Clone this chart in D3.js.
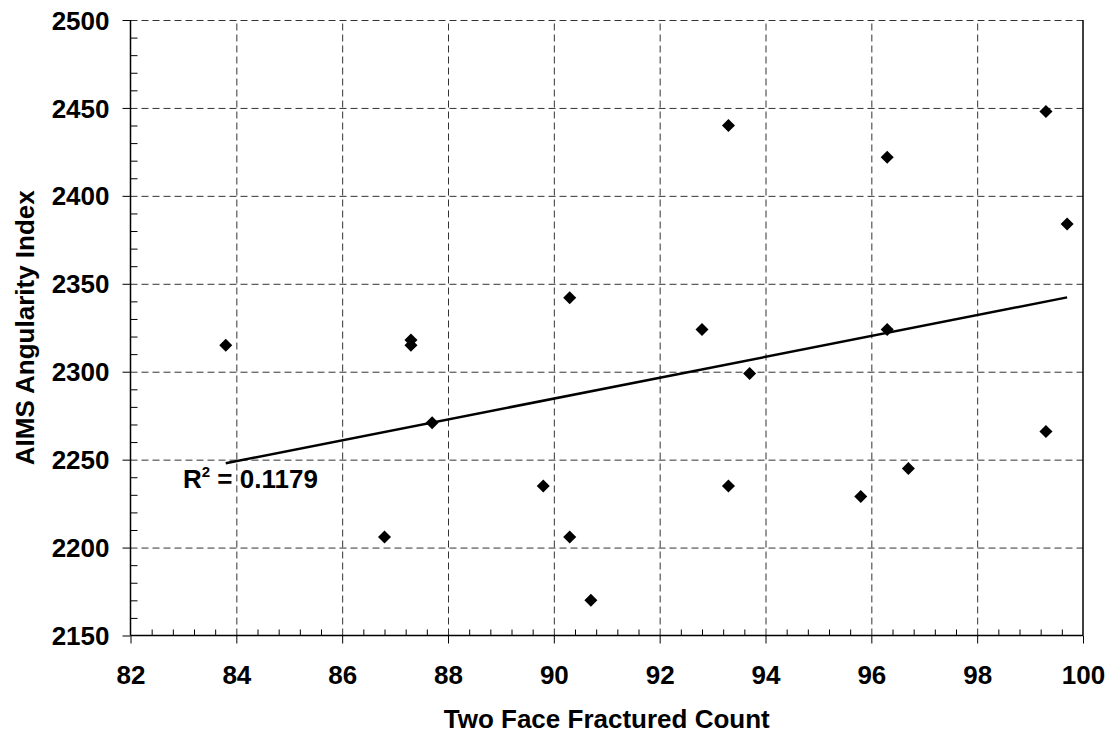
<!DOCTYPE html>
<html>
<head>
<meta charset="utf-8">
<script src="https://cdn.jsdelivr.net/npm/d3@7"></script>
<style>
  html, body { margin: 0; padding: 0; background: #fff; }
  svg { display: block; }
  text { font-family: "Liberation Sans", Arial, sans-serif; font-weight: bold; fill: #000; }
</style>
</head>
<body>
<svg id="chart" width="1116" height="736"></svg>
<script>
// ---- Data ----
const twoFaceCount = [83.8, 87.3, 87.3, 87.7, 90.3, 90.3, 86.8, 89.8, 90.7, 93.3,
                      93.3, 96.3, 96.3, 99.3, 99.3, 99.7, 92.8, 93.7, 95.8, 96.7];
const angularityIndex = [2315, 2318, 2315, 2271, 2342, 2206, 2206, 2235, 2170, 2440,
                         2235, 2422, 2324, 2448, 2266, 2384, 2324, 2299, 2229, 2245];
const xTicks = [82, 84, 86, 88, 90, 92, 94, 96, 98, 100];
const yTicks = [2150, 2200, 2250, 2300, 2350, 2400, 2450, 2500];
const rSquaredLabel = "0.1179";
const xTitle = "Two Face Fractured Count";
const yTitle = "AIMS Angularity Index";

// ---- Layout ----
const pL = 130.5, pR = 1083, pT = 20, pB = 635.5;
const FS = 26;
const svg = d3.select("#chart");

const x = d3.scaleLinear().domain([82, 100]).range([pL, pR]);
const y = d3.scaleLinear().domain([2150, 2500]).range([pB, pT]);

// gridlines
const gridColor = "#333";
const gy = svg.append("g").attr("transform", `translate(${pL},0)`)
  .call(d3.axisLeft(y).tickValues(yTicks.filter(v => v !== 2150)).tickSize(-(pR - pL)).tickFormat(""));
gy.select(".domain").remove();
gy.selectAll("line").attr("stroke", gridColor).attr("stroke-width", 1).attr("stroke-dasharray", "7,4");

const gx = svg.append("g").attr("transform", `translate(0,${pB})`)
  .call(d3.axisBottom(x).tickValues(xTicks.filter(v => v !== 82 && v !== 100)).tickSize(-(pB - pT)).tickFormat(""));
gx.select(".domain").remove();
gx.selectAll("line").attr("stroke", gridColor).attr("stroke-width", 1).attr("stroke-dasharray", "7,4");

// right border
svg.append("line").attr("x1", pR).attr("x2", pR).attr("y1", pT).attr("y2", pB)
  .attr("stroke", "#000").attr("stroke-width", 1.5);

// minor ticks (inside)
const yMinor = d3.range(2160, 2500, 10).filter(v => v % 50 !== 0);
const ym = svg.append("g").attr("transform", `translate(${pL},0)`)
  .call(d3.axisRight(y).tickValues(yMinor).tickSize(7).tickFormat(""));
ym.select(".domain").remove();
ym.selectAll("line").attr("stroke", "#000").attr("stroke-width", 1);

const xMinor = d3.range(0, 46).map(i => 82 + i * 0.4).filter(v => Math.abs(v / 2 - Math.round(v / 2)) > 0.01 && v < 100);
const xm = svg.append("g").attr("transform", `translate(0,${pB})`)
  .call(d3.axisTop(x).tickValues(xMinor).tickSize(6).tickFormat(""));
xm.select(".domain").remove();
xm.selectAll("line").attr("stroke", "#000").attr("stroke-width", 1);

// main axes
const yAxis = svg.append("g").attr("transform", `translate(${pL},0)`)
  .call(d3.axisLeft(y).tickValues(yTicks).tickSize(8).tickFormat(d3.format("d")));
yAxis.select(".domain").attr("stroke", "#000").attr("stroke-width", 1.5).attr("d", `M0,${pT}V${pB}`);
yAxis.selectAll("line").attr("stroke", "#000").attr("stroke-width", 1);
yAxis.selectAll("text").attr("font-size", FS).attr("font-family", "Liberation Sans, Arial, sans-serif")
  .attr("font-weight", "bold").attr("x", -21).attr("dy", "0.35em");

const xAxis = svg.append("g").attr("transform", `translate(0,${pB})`)
  .call(d3.axisBottom(x).tickValues(xTicks).tickSize(8).tickFormat(d3.format("d")));
xAxis.select(".domain").attr("stroke", "#000").attr("stroke-width", 1.5).attr("d", `M${pL},0H${pR}`);
xAxis.selectAll("line").attr("stroke", "#000").attr("stroke-width", 1);
xAxis.selectAll("text").attr("font-size", FS).attr("font-family", "Liberation Sans, Arial, sans-serif")
  .attr("font-weight", "bold").attr("y", 48.5).attr("dy", 0);

// axis titles
svg.append("text").attr("x", (pL + pR) / 2).attr("y", 728).attr("text-anchor", "middle")
  .attr("font-size", FS).text(xTitle);
svg.append("text").attr("transform", `translate(33.5,${(pT + pB) / 2}) rotate(-90)`).attr("text-anchor", "middle")
  .attr("font-size", FS).text(yTitle);

// trend line (least squares)
const n = twoFaceCount.length;
const mx = d3.mean(twoFaceCount), my = d3.mean(angularityIndex);
let sxy = 0, sxx = 0;
for (let i = 0; i < n; i++) { sxy += (twoFaceCount[i] - mx) * (angularityIndex[i] - my); sxx += (twoFaceCount[i] - mx) ** 2; }
const slope = sxy / sxx, intercept = my - slope * mx;
const [xmin, xmax] = d3.extent(twoFaceCount);
svg.append("line")
  .attr("x1", x(xmin)).attr("y1", y(intercept + slope * xmin))
  .attr("x2", x(xmax)).attr("y2", y(intercept + slope * xmax))
  .attr("stroke", "#000").attr("stroke-width", 2.5);

// points
const sym = d3.symbol().type(d3.symbolSquare).size(85);
svg.append("g").selectAll("path").data(twoFaceCount).join("path")
  .attr("d", sym)
  .attr("transform", (d, i) => `translate(${x(d)},${y(angularityIndex[i])}) rotate(45)`)
  .attr("fill", "#000");

// R² label
const rt = svg.append("text").attr("x", 183).attr("y", 488).attr("font-size", FS);
rt.append("tspan").text("R");
rt.append("tspan").attr("font-size", 15).attr("dy", -11.5).text("2");
rt.append("tspan").attr("dy", 11.5).text(" = " + rSquaredLabel);
</script>
</body>
</html>
